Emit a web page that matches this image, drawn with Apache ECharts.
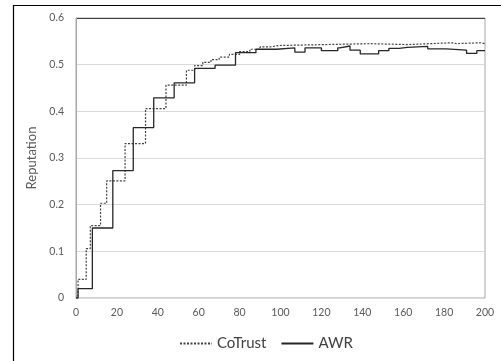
<!DOCTYPE html>
<html><head><meta charset="utf-8">
<script src="https://cdn.jsdelivr.net/npm/echarts@6/dist/echarts.min.js"></script>
<style>html,body{margin:0;padding:0;background:#fff}#c{width:501px;height:361px}</style>
</head><body><div id="c"></div>
<script>
var awrX = [0, 1, 8, 18, 28, 38, 48, 58, 68, 78, 88, 98, 107, 112, 120, 128, 129, 134, 139, 148, 153, 158, 162, 172, 181, 191, 196, 200];
var awrY = [0, 0.02, 0.15, 0.273, 0.365, 0.429, 0.461, 0.492, 0.499, 0.526, 0.533, 0.536, 0.527, 0.536, 0.530, 0.536, 0.540, 0.531, 0.523, 0.530, 0.535, 0.537, 0.539, 0.534, 0.531, 0.524, 0.530, 0.530];
var coX = [0, 1, 5, 7, 12, 15, 24, 34, 44, 54, 58, 62, 66, 70, 75, 80, 85, 90, 95, 99, 121, 144, 162, 184, 186, 198, 200];
var coY = [0, 0.04, 0.106, 0.155, 0.203, 0.251, 0.331, 0.406, 0.456, 0.488, 0.498, 0.505, 0.511, 0.516, 0.522, 0.528, 0.533, 0.538, 0.541, 0.543, 0.545, 0.543, 0.547, 0.545, 0.547, 0.545, 0.545];
var seriesNames = ['CoTrust', 'AWR'];
var yTicks = [0, 0.1, 0.2, 0.3, 0.4, 0.5, 0.6];

function pairs(xs, ys){ return xs.map(function(x,i){ return [x, ys[i]]; }); }
var font = 'Lato, "Open Sans", sans-serif';
var chart = echarts.init(document.getElementById('c'), null, {renderer:'canvas'});
chart.setOption({
  animation:false,
  textStyle:{fontFamily:font},
  graphic:[{type:'rect', shape:{x:13.5,y:5.5,width:600,height:500}, style:{fill:'none',stroke:'#000',lineWidth:1.2}, silent:true}],
  grid:{left:76,right:16,top:18,bottom:63,show:true,borderColor:'#a6a6a6',borderWidth:1},
  legend:{
    data:seriesNames, left:174, top:331, itemWidth:32, itemHeight:10, itemGap:14,
    itemStyle:{opacity:0},
    textStyle:{fontFamily:font,fontSize:15,color:'#404040'}
  },
  xAxis:{type:'value',min:0,max:200,interval:20,
    axisLine:{show:true,lineStyle:{color:'#d9d9d9'}},axisTick:{show:false},splitLine:{show:false},
    axisLabel:{color:'#595959',fontSize:10.5,margin:9,fontFamily:font}},
  yAxis:{type:'value',min:0,max:0.6,interval:0.1,name:'Reputation',nameLocation:'middle',nameGap:37,
    nameTextStyle:{color:'#595959',fontSize:13,fontFamily:font},
    axisLine:{show:true,lineStyle:{color:'#a6a6a6'}},axisTick:{show:false},
    splitLine:{show:true,lineStyle:{color:['#d9d9d9','#d9d9d9','#d9d9d9','#d9d9d9','#d9d9d9','#d9d9d9','#404040']}},
    axisLabel:{color:'#595959',fontSize:10.5,margin:12,fontFamily:font,formatter:function(v){return String(Math.round(v*10)/10);}}},
  series:[
    {name:seriesNames[0],type:'line',step:'end',showSymbol:false,symbol:'none',data:pairs(coX,coY),
     lineStyle:{color:'#404040',width:1.2,type:[2,1.5]},itemStyle:{color:'#404040'}},
    {name:seriesNames[1],type:'line',step:'end',showSymbol:false,symbol:'none',data:pairs(awrX,awrY),
     lineStyle:{color:'#262626',width:1.3,type:'solid'},itemStyle:{color:'#262626'}}
  ]
});
</script></body></html>
